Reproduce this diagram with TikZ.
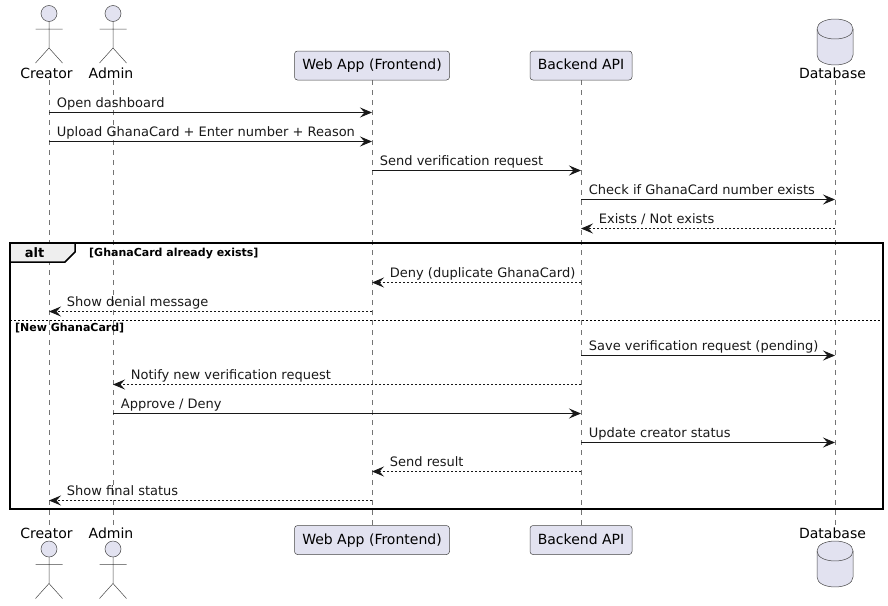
\documentclass[tikz,border=0pt]{standalone}
\usepackage{fontspec}
\setmainfont{DejaVu Sans}
\usetikzlibrary{arrows.meta}
\definecolor{pfill}{HTML}{E2E2F0}
\definecolor{pline}{HTML}{181818}
\definecolor{tabfill}{HTML}{EEEEEE}
\tikzset{
  part/.style={draw=pline!80,fill=pfill,line width=0.5pt,rounded corners=3pt,minimum height=29pt,inner sep=0pt,text height=10.5pt,text depth=2.5pt,font=\fontsize{14}{16}\selectfont},
  lifeline/.style={draw=pline!60,line width=0.5pt,dash pattern=on 5pt off 5pt},
  actorline/.style={draw=pline!80,line width=0.5pt,fill=pfill},
  msgsolid/.style={draw=pline,line width=0.9pt,-{Stealth[length=12pt,width=10pt,inset=4.5pt]}},
  msgdash/.style={draw=pline,line width=0.9pt,dash pattern=on 2pt off 2pt,-{Stealth[length=12pt,width=10pt,inset=4.5pt]}},
  msgtext/.style={anchor=base west,inner sep=0pt,font=\fontsize{13}{15}\selectfont,text=black!90},
  plabel/.style={inner sep=0pt,font=\fontsize{14}{16}\selectfont,anchor=base},
  guard/.style={anchor=base west,inner sep=0pt,font=\fontsize{11}{13}\selectfont\bfseries},
  framebox/.style={draw=black,line width=1.5pt}
}
\newcommand{\actorfig}[2]{% x, head centre y
  \draw[actorline] (#1,#2) circle[radius=8];
  \draw[draw=pline!80,line width=0.5pt] (#1,#2+8) -- (#1,#2+34.5)
    (#1-13.5,#2+15.5) -- (#1+13.5,#2+15.5)
    (#1-13.5,#2+49.5) -- (#1,#2+34.5) -- (#1+13.5,#2+49.5);
}
\newcommand{\dbfig}[2]{% x, top y
  \draw[actorline] (#1-18,#2+10) .. controls (#1-18,#2-3.3) and (#1+18,#2-3.3) .. (#1+18,#2+10)
    -- (#1+18,#2+36) .. controls (#1+18,#2+49.3) and (#1-18,#2+49.3) .. (#1-18,#2+36) -- cycle;
  \draw[draw=pline!80,line width=0.5pt] (#1-18,#2+10) .. controls (#1-18,#2+23.3) and (#1+18,#2+23.3) .. (#1+18,#2+10);
}
\newcommand{\msgR}[6]{% name, from, to, y, style, text
  \draw[#5] (#2 |- 0,#4-0.5) -- (#3 |- 0,#4-0.5);
  \node[msgtext] (#1) at ([xshift=7.7pt]#2 |- 0,#4-5.2) {#6};
}
\newcommand{\msgL}[6]{% name, from, to, y, style, text
  \draw[#5] (#2 |- 0,#4-0.5) -- (#3 |- 0,#4-0.5);
  \node[msgtext] (#1) at ([xshift=17.7pt]#3 |- 0,#4-5.2) {#6};
}
\begin{document}
\begin{tikzpicture}[x=1pt,y=-1pt]
\useasboundingbox (0,0) rectangle (888,605);
% anchors of lifelines
\coordinate (cT) at (49,80); \coordinate (cB) at (49,525);
\coordinate (aT) at (113,80); \coordinate (aB) at (113,525);
\coordinate (wT) at (372,80); \coordinate (wB) at (372,525);
\coordinate (bT) at (581,80); \coordinate (bB) at (581,525);
\coordinate (dT) at (835,80); \coordinate (dB) at (835,525);
\foreach \t/\u in {c/cB,a/aB,w/wB,b/bB,d/dB}{\draw[lifeline] (\t T) -- (\u);}
% participants
\node[part,minimum width=155pt] (webT) at (372,65.5) {Web App (Frontend)};
\node[part,minimum width=102pt] (apiT) at (581,65.5) {Backend API};
\node[part,minimum width=155pt] (webB) at (372,540) {Web App (Frontend)};
\node[part,minimum width=102pt] (apiB) at (581,540) {Backend API};
\actorfig{49}{13.5}
\actorfig{113}{13.5}
\actorfig{49}{549}
\actorfig{113}{549}
\dbfig{835}{19}
\dbfig{835}{541}
\node[plabel] (creatorT) at (46.5,78) {Creator};
\node[plabel] (adminT) at (111,78) {Admin};
\node[plabel] (dbT) at (832.5,78) {Database};
\node[plabel] (creatorB) at (46.5,538) {Creator};
\node[plabel] (adminB) at (111,538) {Admin};
\node[plabel] (dbB) at (832.5,538) {Database};
% frame
\draw[framebox] (10,243) rectangle (883,509);
\draw[line width=1.5pt,draw=black,fill=tabfill] (10,243) -- (75,243) -- (75,252) -- (65,262) -- (10,262) -- cycle;
\node[inner sep=0pt,anchor=base,font=\fontsize{13}{15}\selectfont\bfseries] (alt) at (34.5,257) {alt};
\node[guard] (g1) at (89,256) {[GhanaCard already exists]};
\draw[draw=black,line width=0.9pt,dash pattern=on 2pt off 2pt] (10,320) -- (883,320);
\node[guard] (g2) at (15,331) {[New GhanaCard]};
% messages
\msgR{m1}{cT}{wT}{113}{msgsolid}{Open dashboard}
\msgR{m2}{cT}{wT}{142}{msgsolid}{Upload GhanaCard + Enter number + Reason}
\msgR{m3}{wT}{bT}{171}{msgsolid}{Send verification request}
\msgR{m4}{bT}{dT}{200}{msgsolid}{Check if GhanaCard number exists}
\msgL{m5}{dT}{bT}{229}{msgdash}{Exists / Not exists}
\msgL{m6}{bT}{wT}{283}{msgdash}{Deny (duplicate GhanaCard)}
\msgL{m7}{wT}{cT}{312}{msgdash}{Show denial message}
\msgR{m8}{bT}{dT}{356}{msgsolid}{Save verification request (pending)}
\msgL{m9}{bT}{aT}{385}{msgdash}{Notify new verification request}
\msgR{m10}{aT}{bT}{414}{msgsolid}{Approve / Deny}
\msgR{m11}{bT}{dT}{443}{msgsolid}{Update creator status}
\msgL{m12}{bT}{wT}{472}{msgdash}{Send result}
\msgL{m13}{wT}{cT}{501}{msgdash}{Show final status}
\end{tikzpicture}
\end{document}
